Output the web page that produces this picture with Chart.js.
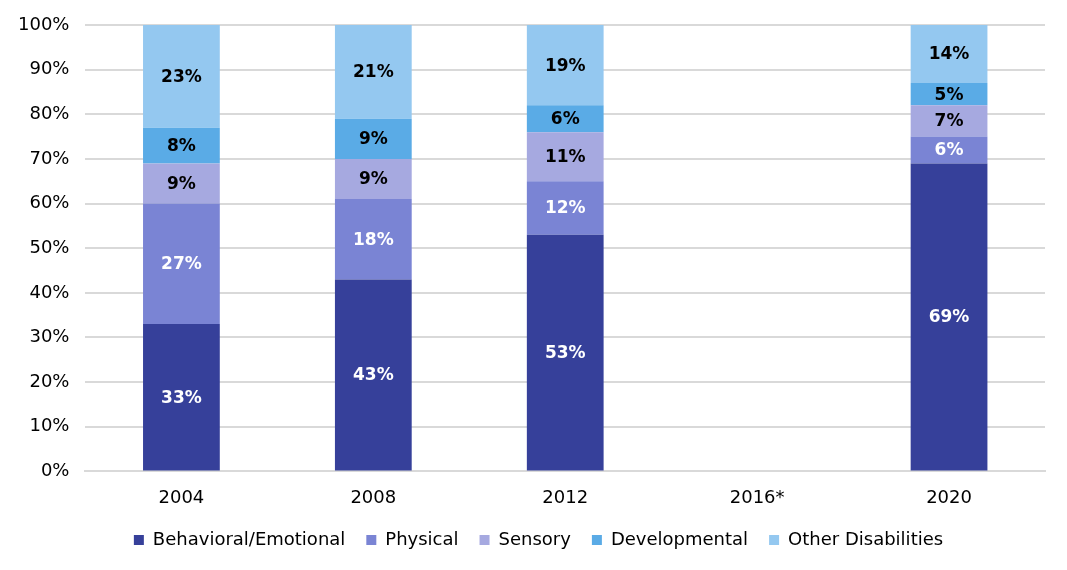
<!DOCTYPE html>
<html>
<head>
<meta charset="utf-8">
<script src="https://cdn.jsdelivr.net/npm/chart.js@4/dist/chart.umd.min.js"></script>
<style>
  body { margin: 0; background: #fff; }
  #wrap { width: 1067px; height: 570px; }
</style>
</head>
<body>
<div id="wrap"><canvas id="myChart"></canvas></div>
<script>
const years = ["2004", "2008", "2012", "2016*", "2020"];
const behavioral = [33, 43, 53, null, 69];
const physical = [27, 18, 12, null, 6];
const sensory = [9, 9, 11, null, 7];
const developmental = [8, 9, 6, null, 5];
const other = [23, 21, 19, null, 14];

const fontName = "'DejaVu Sans', sans-serif";

function mkSet(label, data, color, textColor) {
    return {
        label: label,
        data: data,
        backgroundColor: color,
        labelColor: textColor,
        barPercentage: 0.4,
        categoryPercentage: 1.0
    };
}

// draws the percent text inside each segment
const segLabels = {
    id: 'segLabels',
    afterDatasetsDraw(chart) {
        const ctx = chart.ctx;
        const area = chart.chartArea;
        ctx.save();
        ctx.font = "bold 17px " + fontName;
        ctx.textAlign = 'center';
        ctx.textBaseline = 'middle';
        chart.data.datasets.forEach((ds, i) => {
            const meta = chart.getDatasetMeta(i);
            meta.data.forEach((bar, j) => {
                const v = ds.data[j];
                if (v == null) return;
                const top = Math.max(bar.y, area.top);
                const y = (top + bar.base) / 2;
                ctx.fillStyle = ds.labelColor;
                ctx.fillText(v + '%', bar.x, y + 1);
            });
        });
        ctx.restore();
    }
};

// wide gaps between legend items, but keep the legend box short
const legendFix = {
    id: 'legendFix',
    beforeInit(chart) {
        const lg = chart.legend;
        const origFit = lg.fit;
        lg.fit = function () {
            origFit.bind(this)();
            this.height = 53;
        };
        const origDraw = lg.draw;
        lg.draw = function () {
            chart.ctx.save();
            chart.ctx.translate(15, -7);
            origDraw.apply(this, arguments);
            chart.ctx.restore();
        };
    }
};

const config = {
    type: 'bar',
    data: {
        labels: years,
        datasets: [
            mkSet('Behavioral/Emotional', behavioral, '#36409a', '#ffffff'),
            mkSet('Physical', physical, '#7a84d4', '#ffffff'),
            mkSet('Sensory', sensory, '#a6a9e0', '#000000'),
            mkSet('Developmental', developmental, '#5aabe6', '#000000'),
            mkSet('Other Disabilities', other, '#94c8f0', '#000000')
        ]
    },
    options: {
        responsive: true,
        maintainAspectRatio: false,
        animation: false,
        layout: { padding: { left: 2, right: 22, top: 0, bottom: 0 } },
        plugins: {
            legend: {
                position: 'bottom',
                labels: {
                    boxWidth: 10,
                    boxHeight: 10,
                    padding: 21,
                    color: '#000',
                    font: { family: fontName, size: 18 }
                }
            },
            tooltip: { enabled: false }
        },
        scales: {
            x: {
                stacked: true,
                grid: { display: false },
                border: { color: '#d9d9d9', width: 2 },
                ticks: { color: '#000', font: { family: fontName, size: 18 }, padding: 8 }
            },
            y: {
                stacked: true,
                min: 0,
                max: 100,
                grid: { color: '#d9d9d9', lineWidth: 2, drawTicks: false },
                border: { display: false },
                ticks: {
                    stepSize: 10,
                    padding: 16,
                    color: '#000',
                    font: { family: fontName, size: 18, lineHeight: 1.0 },
                    callback: v => v + '%'
                }
            }
        }
    },
    plugins: [segLabels, legendFix]
};

const myChart = new Chart(document.getElementById('myChart'), config);
</script>
</body>
</html>
